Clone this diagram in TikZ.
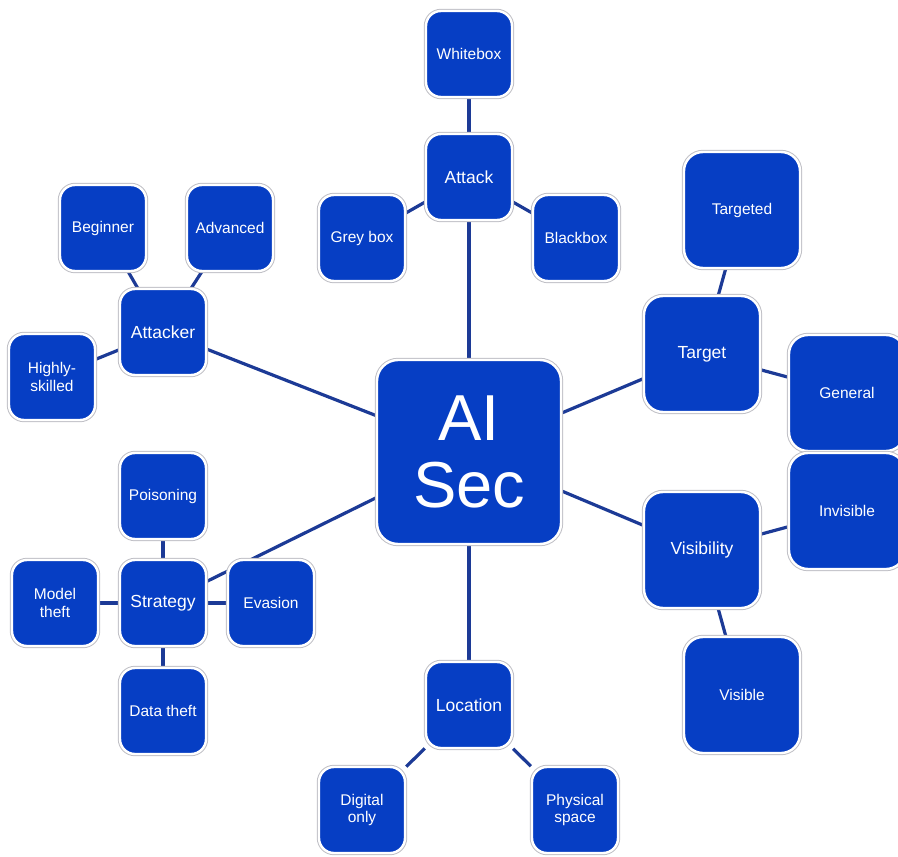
\documentclass[tikz,border=0pt]{standalone}
\usepackage{fontspec}
\setmainfont{Liberation Sans}
\usetikzlibrary{backgrounds}
\definecolor{boxblue}{RGB}{6,62,196}
\definecolor{linkblue}{RGB}{28,58,150}
\definecolor{rimgrey}{RGB}{192,192,198}
\tikzset{
  box/.style={preaction={draw=rimgrey, line width=4.4pt}, draw=white, line width=2.4pt,
    fill=boxblue, text=white, align=center, inner sep=0pt, rounded corners=15pt},
  leaf/.style={box, minimum width=86pt, minimum height=86pt,
    font=\fontsize{15.5}{17.5}\selectfont},
  hub/.style={box, minimum width=86pt, minimum height=86pt,
    font=\fontsize{17.5}{19}\selectfont},
  bighub/.style={hub, minimum width=116pt, minimum height=116pt, rounded corners=19pt},
  bigleaf/.style={leaf, minimum width=116pt, minimum height=116pt, rounded corners=19pt},
  core/.style={box, minimum width=184pt, minimum height=184pt, rounded corners=21pt,
    font=\fontsize{65}{67}\selectfont},
  link/.style={draw=linkblue, line width=3.2pt}
}
\begin{document}
\begin{tikzpicture}[x=1pt, y=-1pt]
  \useasboundingbox (0,0) rectangle (898,857);
  \clip (0,0) rectangle (898,857);

  % centre
  \node[core] (ai) at (469,452) {AI\\Sec};

  % attack
  \node[hub]  (attack)   at (469,177) {Attack};
  \node[leaf] (white)    at (469,54)  {Whitebox};
  \node[leaf] (grey)     at (362,238) {Grey box};
  \node[leaf] (black)    at (576,238) {Blackbox};

  % attacker
  \node[hub]  (attacker) at (163,332) {Attacker};
  \node[leaf] (beginner) at (103,228) {Beginner};
  \node[leaf] (advanced) at (230,228) {Advanced};
  \node[leaf] (skilled)  at (52,377)  {Highly-\\skilled};

  % strategy
  \node[hub]  (strategy) at (163,603) {Strategy};
  \node[leaf] (poison)   at (163,496) {Poisoning};
  \node[leaf] (model)    at (55,603)  {Model\\theft};
  \node[leaf] (evasion)  at (271,603) {Evasion};
  \node[leaf] (data)     at (163,711) {Data theft};

  % location
  \node[hub]  (location) at (469,705) {Location};
  \node[leaf] (digital)  at (362,810) {Digital\\only};
  \node[leaf] (physical) at (575,810) {Physical\\space};

  % target
  \node[bighub]  (target)    at (702,354) {Target};
  \node[bigleaf] (targeted)  at (742,210) {Targeted};
  \node[bigleaf] (general)   at (847,393) {General};

  % visibility
  \node[bighub]  (visibility) at (702,550) {Visibility};
  \node[bigleaf] (invisible)  at (847,511) {Invisible};
  \node[bigleaf] (visible)    at (742,695) {Visible};

  \begin{scope}[on background layer]
    \draw[link] (ai) -- (attack);
    \draw[link] (ai) -- (location);
    \draw[link] (ai) -- (attacker);
    \draw[link] (ai) -- (strategy);
    \draw[link] (ai) -- (target);
    \draw[link] (ai) -- (visibility);

    \draw[link] (attack) -- (white);
    \draw[link] (attack) -- (grey);
    \draw[link] (attack) -- (black);

    \draw[link] (attacker) -- (beginner);
    \draw[link] (attacker) -- (advanced);
    \draw[link] (attacker) -- (skilled);

    \draw[link] (strategy) -- (poison);
    \draw[link] (strategy) -- (model);
    \draw[link] (strategy) -- (evasion);
    \draw[link] (strategy) -- (data);

    \draw[link] (location) -- (digital);
    \draw[link] (location) -- (physical);

    \draw[link] (target) -- (targeted);
    \draw[link] (target) -- (general);

    \draw[link] (visibility) -- (invisible);
    \draw[link] (visibility) -- (visible);
  \end{scope}
\end{tikzpicture}
\end{document}
